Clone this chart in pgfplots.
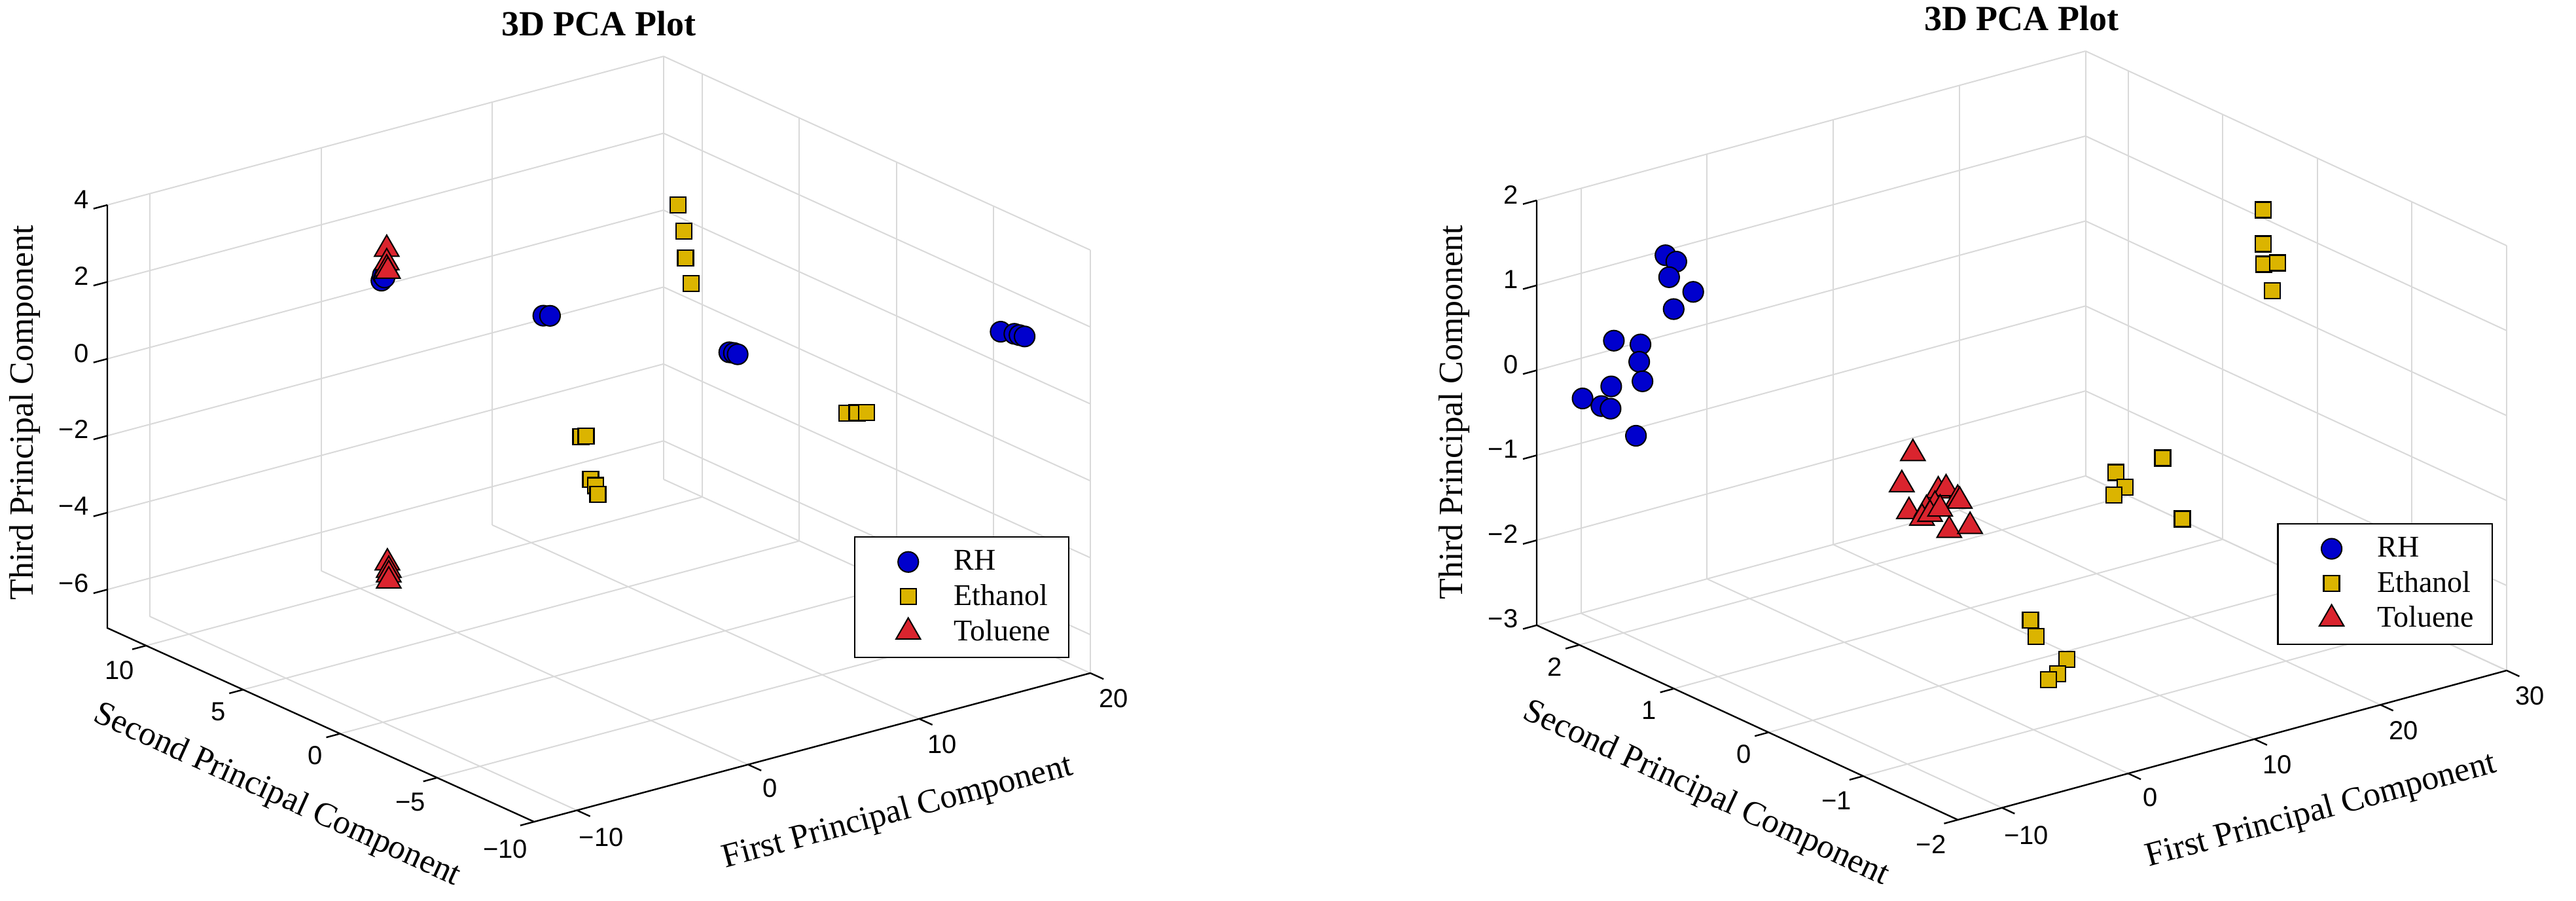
\documentclass[border=0pt]{standalone}
\usepackage{pgfplots}
\pgfplotsset{compat=1.18}
\usepackage{fontspec}
\setmainfont{Liberation Serif}
\setsansfont{Liberation Sans}
\definecolor{rhblue}{RGB}{0,0,205}
\definecolor{etyellow}{RGB}{219,180,0}
\definecolor{tored}{RGB}{218,36,46}
\tikzset{axl/.style={black, line width=0.6pt}}
\pgfplotsset{
  pcabase/.style={
    scale only axis, view={-37.5}{30},
    grid=major, major grid style={black!15, line width=0.5pt, draw=black!15},
    axis line style={draw=none},
    tick pos=left,
    tick align=outside, major tick length=4pt,
    tick style={draw=none},
    ticklabel style={font=\sffamily\fontsize{10}{12}\selectfont},
    label style={font=\fontsize{13}{15}\selectfont},
    title style={font=\bfseries\fontsize{13.5}{15}\selectfont, at={(0.5,1)}, anchor=center, yshift=6.5pt},
    legend style={font=\fontsize{11.5}{14}\selectfont, draw=black, line width=0.6pt,
      inner xsep=5pt, inner ysep=3pt, cells={anchor=west}},
    legend image code/.code={\path[draw=none,fill=none] (0pt,-2pt) rectangle (31pt,2pt); \draw[#1] plot coordinates {(15.5pt,0pt)};},
    clip=false,
  },
  rh/.style={only marks, mark=*, mark size=3.9pt, mark options={fill=rhblue, draw=black, line width=0.5pt}},
  et/.style={only marks, mark=square*, mark size=3pt, mark options={fill=etyellow, draw=black, line width=0.6pt}},
  to/.style={only marks, mark=triangle*, mark size=5.4pt, mark options={fill=tored, draw=black, line width=0.5pt}},
}
\begin{document}
\begin{tikzpicture}
\path[use as bounding box] (0,0) rectangle (984pt,344pt);
% ---------------- left panel ----------------
\begin{axis}[pcabase,
  at={(41pt,30.25pt)}, anchor=south west,
  width=375.5pt, height=292.25pt,
  xmin=-12.5, xmax=20, ymin=-10, ymax=12, zmin=-7, zmax=4,
  xtick={-10,0,10,20}, xticklabels={−10,0,10,20},
  ytick={-10,-5,0,5,10}, yticklabels={−10,−5,0,5,10},
  ztick={-6,-4,-2,0,2,4}, zticklabels={−6,−4,−2,0,2,4},
  title={3D PCA Plot},
  xlabel={First Principal Component},
  ylabel={Second Principal Component},
  zlabel={Third Principal Component},
  xlabel style={at={(axis cs:1.56,-16.33,-7)}, anchor=center, sloped like x axis},
  ylabel style={at={(axis cs:-19.87,-3.23,-7)}, anchor=center, sloped like y axis},
  zlabel style={at={(axis cs:-17.33,12,-0.83)}, anchor=center, sloped like z axis},
  legend style={at={(0.979,0.373)}, anchor=north east},
]
\draw[axl] (axis cs:-12.5,12,4) -- (axis cs:-12.5,12,-7) -- (axis cs:-12.5,-10,-7) -- (axis cs:20,-10,-7);
\pgfplotsinvokeforeach{-10,0,10,20}{\draw[axl] (axis cs:#1,-10,-7) -- (axis cs:#1,-10.68,-7);}
\pgfplotsinvokeforeach{-10,-5,0,5,10}{\draw[axl] (axis cs:-12.5,#1,-7) -- (axis cs:-13.31,#1,-7);}
\pgfplotsinvokeforeach{-6,-4,-2,0,2,4}{\draw[axl] (axis cs:-12.5,12,#1) -- (axis cs:-13.31,12,#1);}
\addplot3[rh] table {
x y z
-2.38 6.8 2.02
-2.30 6.8 2.15
-2.10 6.8 2.22
-2.20 6.8 2.08
1.64 2.0 1.73
2.03 2.0 1.68
7.63 -2.3 1.05
7.90 -2.3 1.00
8.12 -2.3 0.94
18.5 -6.7 1.30
19.3 -6.7 1.15
19.6 -6.7 1.08
19.9 -6.7 1.01
};
\addlegendentry{RH}
\addplot3[et] table {
x y z
9.62 2.1 3.64
9.96 2.1 2.92
10.07 2.1 2.20
10.38 2.1 1.50
10.18 7.6 -3.72
10.48 7.6 -3.74
10.75 7.6 -4.89
11.05 7.6 -5.09
11.17 7.6 -5.33
14.50 -2.3 -1.35
15.10 -2.3 -1.41
15.65 -2.3 -1.47
};
\addlegendentry{Ethanol}
\addplot3[to] table {
x y z
-2.07 6.8 2.80
-2.07 6.8 2.45
-2.07 6.8 2.29
-2.00 6.8 2.22
-2.03 6.8 -5.36
-1.95 6.8 -5.56
-1.95 6.8 -5.68
-1.95 6.8 -5.84
};
\addlegendentry{Toluene}
\end{axis}
% ---------------- right panel ----------------
\begin{axis}[pcabase,
  at={(587pt,31pt)}, anchor=south west,
  width=370.5pt, height=293.5pt,
  xmin=-13.5, xmax=30, ymin=-2, ymax=2.45, zmin=-3, zmax=2,
  xtick={-10,0,10,20,30}, xticklabels={−10,0,10,20,30},
  ytick={-2,-1,0,1,2}, yticklabels={−2,−1,0,1,2},
  ztick={-3,-2,-1,0,1,2}, zticklabels={−3,−2,−1,0,1,2},
  title={3D PCA Plot},
  xlabel={First Principal Component},
  ylabel={Second Principal Component},
  zlabel={Third Principal Component},
  xlabel style={at={(axis cs:5.55,-3.30,-3)}, anchor=center, sloped like x axis},
  ylabel style={at={(axis cs:-23.32,-0.644,-3)}, anchor=center, sloped like y axis},
  zlabel style={at={(axis cs:-20.05,2.45,-0.23)}, anchor=center, sloped like z axis},
  legend style={at={(0.986,0.386)}, anchor=north east},
]
\draw[axl] (axis cs:-13.5,2.45,2) -- (axis cs:-13.5,2.45,-3) -- (axis cs:-13.5,-2,-3) -- (axis cs:30,-2,-3);
\pgfplotsinvokeforeach{-10,0,10,20,30}{\draw[axl] (axis cs:#1,-2,-3) -- (axis cs:#1,-2.134,-3);}
\pgfplotsinvokeforeach{-2,-1,0,1,2}{\draw[axl] (axis cs:-13.5,#1,-3) -- (axis cs:-14.59,#1,-3);}
\pgfplotsinvokeforeach{-3,-2,-1,0,1,2}{\draw[axl] (axis cs:-13.5,2.45,#1) -- (axis cs:-14.59,2.45,#1);}
\addplot3[rh] table {
x y z
-6.67 2.0 1.31
-5.81 2.0 1.20
-6.38 2.0 1.04
-4.47 2.0 0.79
-6.02 2.0 0.65
-10.76 2.0 0.47
-8.65 2.0 0.34
-8.75 2.0 0.14
-8.49 2.0 -0.10
-10.97 2.0 -0.06
-13.24 2.0 -0.11
-11.75 2.0 -0.26
-11.02 2.0 -0.32
-9.01 2.0 -0.72
};
\addlegendentry{RH}
\addplot3[et] table {
x y z
27.40 0.225 1.38
27.40 0.225 0.98
27.45 0.225 0.74
28.53 0.225 0.71
28.12 0.225 0.40
12.75 -0.665 -0.49
9.03 -0.665 -0.51
9.76 -0.665 -0.71
8.88 -0.665 -0.77
14.30 -0.665 -1.27
-2.72 -1.33 -1.43
-2.26 -1.33 -1.64
0.17 -1.33 -2.01
-0.55 -1.33 -2.15
-1.28 -1.33 -2.19
};
\addlegendentry{Ethanol}
\addplot3[to] table {
x y z
-2.06 0.0 -0.18
-2.94 0.0 -0.51
-0.05 0.0 -0.70
0.57 0.0 -0.70
1.49 0.0 -0.86
1.65 0.0 -0.89
-2.37 0.0 -0.85
-0.98 0.0 -0.88
-0.31 0.0 -0.86
-1.34 0.0 -0.97
-0.70 0.0 -0.95
0.10 0.0 -0.92
0.82 0.0 -1.20
2.47 0.0 -1.22
};
\addlegendentry{Toluene}
\end{axis}
\end{tikzpicture}
\end{document}
